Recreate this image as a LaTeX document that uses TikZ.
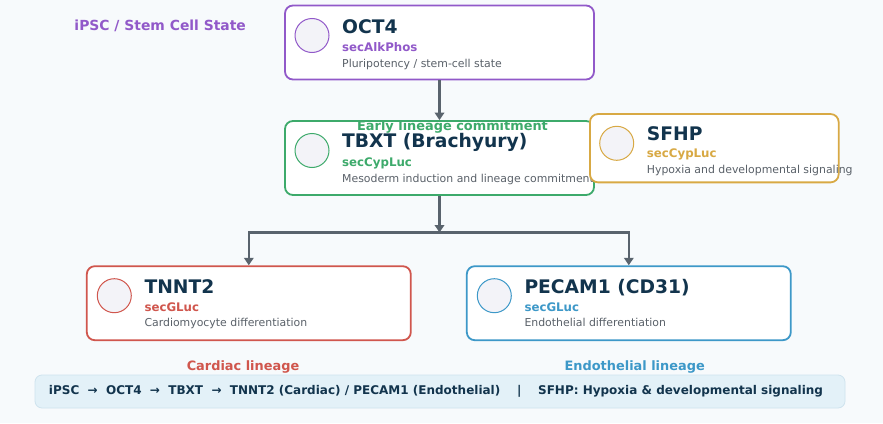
\documentclass[tikz,border=0pt]{standalone}
\usepackage{fontspec}
\setmainfont{DejaVu Sans}
\usepackage{xcolor}
\usetikzlibrary{arrows.meta, positioning}

\definecolor{bgpage}{HTML}{F7FAFC}
\definecolor{navy}{HTML}{12344D}
\definecolor{greytxt}{HTML}{5A6169}
\definecolor{linegrey}{HTML}{59636D}
\definecolor{stempurple}{HTML}{9159C9}
\definecolor{mesogreen}{HTML}{3DAA6B}
\definecolor{hypoxgold}{HTML}{D8A944}
\definecolor{cardred}{HTML}{D0564D}
\definecolor{endoblue}{HTML}{3D98C8}
\definecolor{dotfill}{HTML}{F3F3F8}
\definecolor{bannerfill}{HTML}{E3F1F8}
\definecolor{bannerline}{HTML}{CFE3EE}

\begin{document}
\begin{tikzpicture}[
    x=1pt, y=-1pt,
    box/.style={rectangle, rounded corners=8pt, draw=#1, line width=1.8pt, fill=white, minimum width=309pt, minimum height=74pt, inner sep=0pt},
    dot/.style={circle, draw=#1, line width=1pt, fill=dotfill, minimum size=34pt, inner sep=0pt},
    gene/.style={anchor=base west, inner sep=0pt, text=navy, font=\bfseries\fontsize{18.7pt}{20pt}\selectfont},
    reporter/.style={anchor=base west, inner sep=0pt, text=#1, font=\bfseries\fontsize{11.8pt}{13pt}\selectfont},
    role/.style={anchor=base west, inner sep=0pt, text=greytxt, font=\fontsize{10.9pt}{12pt}\selectfont},
    stage/.style={anchor=base, inner sep=0pt, text=#1, font=\bfseries\fontsize{12.9pt}{14pt}\selectfont},
    banner/.style={rectangle, rounded corners=7pt, fill=bannerfill, draw=bannerline, line width=0.8pt, minimum width=810pt, minimum height=33pt},
    arrow/.style={-{Triangle[length=7.5pt, width=9.5pt]}, line width=2.6pt, linegrey},
]
\fill[bgpage] (0,0) rectangle (883,423);
\useasboundingbox (0,0) rectangle (883,423);

% top: pluripotency
\node[box=stempurple] (oct) at (439.5,42.5) {};
\node[dot=stempurple] (octdot) at (312,35.5) {};
\node[gene] (octname) at (342,33) {OCT4};
\node[reporter=stempurple] (octrep) at (342,51) {secAlkPhos};
\node[role] (octrole) at (342,67) {Pluripotency / stem-cell state};

% middle: mesoderm
\node[box=mesogreen] (tbxt) at (439.5,158) {};
\node[dot=mesogreen] (tbxtdot) at (312,150.5) {};
\node[gene] (tbxtname) at (342,147) {TBXT (Brachyury)};
\node[reporter=mesogreen] (tbxtrep) at (342,166) {secCypLuc};
\node[role] (tbxtrole) at (342,182) {Mesoderm induction and lineage commitment};

% bottom: lineages
\node[box=cardred, minimum width=324pt] (tnnt) at (248.8,303.2) {};
\node[dot=cardred] (tnntdot) at (114.3,295.7) {};
\node[gene] (tnntname) at (144.3,293.3) {TNNT2};
\node[reporter=cardred] (tnntrep) at (144.3,311) {secGLuc};
\node[role] (tnntrole) at (144.3,326.7) {Cardiomyocyte differentiation};

\node[box=endoblue, minimum width=324pt] (pecam) at (628.8,303.2) {};
\node[dot=endoblue] (pecamdot) at (494.3,295.7) {};
\node[gene] (pecamname) at (524.3,293.3) {PECAM1 (CD31)};
\node[reporter=endoblue] (pecamrep) at (524.3,311) {secGLuc};
\node[role] (pecamrole) at (524.3,326.7) {Endothelial differentiation};

% connectors
\coordinate (fork) at (439.5,232.5);
\draw[arrow] (oct) -- (tbxt);
\draw[arrow] (tbxt) -- (fork);
\draw[arrow] (fork) -| (tnnt);
\draw[arrow] (fork) -| (pecam);

% stage labels
\node[stage=stempurple, font=\bfseries\fontsize{13.9pt}{15pt}\selectfont] (stemlabel) at (160.2,30.7) {iPSC / Stem Cell State};
\node[stage=mesogreen] (earlylabel) at (452.5,130) {Early lineage commitment};
\node[stage=cardred] (cardlabel) at (243,370) {Cardiac lineage};
\node[stage=endoblue] (endolabel) at (634.7,370) {Endothelial lineage};

% side: hypoxia
\node[box=hypoxgold, minimum width=248.7pt, minimum height=68.3pt] (sfhp) at (714.3,148.2) {};
\node[dot=hypoxgold] (sfhpdot) at (616.7,143.3) {};
\node[gene] (sfhpname) at (646.7,140) {SFHP};
\node[reporter=hypoxgold] (sfhprep) at (646.7,157.3) {secCypLuc};
\node[role] (sfhprole) at (646.7,173) {Hypoxia and developmental signaling};

% summary
\node[banner] (summary) at (440,391.5) {};
\node[text=navy, font=\bfseries\fontsize{12pt}{13pt}\selectfont] (summarytext) at (436,391.5) {iPSC~~→~~OCT4~~→~~TBXT~~→~~TNNT2 (Cardiac) / PECAM1 (Endothelial)~~~~|~~~~SFHP: Hypoxia \& developmental signaling};
\end{tikzpicture}
\end{document}
